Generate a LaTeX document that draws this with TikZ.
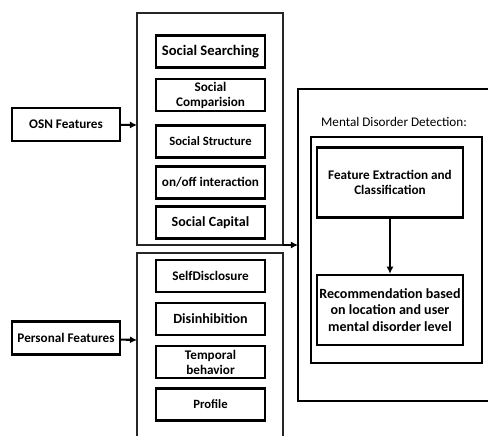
\documentclass[tikz,border=0pt]{standalone}
\usepackage{fontspec}
\setmainfont{Carlito}
\usetikzlibrary{arrows.meta, positioning, calc}

\begin{document}
\begin{tikzpicture}[
    x=0.02cm, y=-0.02cm,
    >={Latex[length=4pt,width=4pt]},
    font=\fontsize{7.5}{8.5}\selectfont\bfseries,
    group/.style={rectangle, draw=black!85, line width=1.1pt, minimum width=2.92cm},
    feat/.style={rectangle, draw=black, line width=1.4pt, fill=white, minimum width=2.18cm, minimum height=0.64cm, inner sep=1pt, align=center},
    src/.style={feat, minimum width=2.16cm, minimum height=0.66cm},
    stage/.style={rectangle, draw=black, line width=1.4pt, fill=white, minimum width=2.92cm, minimum height=1.4cm, align=center, inner sep=1pt}
  ]
    \useasboundingbox (0,0) rectangle (488,436);
    \fill[white] (0,0) rectangle (488,436);

    % containers
    \draw[group] (137,13) rectangle (283,245);
    \draw[group] (137,253) rectangle (283,450);
    \coordinate (osngrp) at (137,125);
    \coordinate (pergrp) at (137,340);
    \coordinate (join) at (283,245);

    % OSN features
    \node[feat, font=\fontsize{8.3}{9}\selectfont\bfseries] (srch) at (210.5,51.5) {Social Searching};
    \node[feat] (comp) at (210.5,95) {Social\\Comparision};
    \node[feat, font=\fontsize{7.2}{8}\selectfont\bfseries] (strc) at (210.5,141.5) {Social Structure};
    \node[feat] (intr) at (210.5,182.5) {on/off interaction};
    \node[feat, font=\fontsize{8}{9}\selectfont\bfseries] (capt) at (210.5,222.5) {Social Capital};

    % personal features
    \node[feat] (self) at (210.5,276) {SelfDisclosure};
    \node[feat, font=\fontsize{8}{9}\selectfont\bfseries] (disi) at (210.5,319) {Disinhibition};
    \node[feat] (temp) at (210.5,362) {Temporal\\behavior};
    \node[feat, font=\fontsize{7.2}{8}\selectfont\bfseries] (prof) at (210.5,404.5) {Profile};

    \node[src] (osn) at (66,124.5) {OSN Features};
    \node[src] (pers) at (66,338) {Personal Features};

    % detection
    \draw[line width=1.2pt] (298,89) rectangle (500,401);
    \coordinate (det) at (298,245);
    \node[anchor=west, font=\fontsize{7.5}{8.5}\selectfont] (title) at (315,122) {Mental Disorder Detection:};
    \draw[line width=1.2pt] (311,137) rectangle (482,363);
    \node[stage, font=\fontsize{7.5}{9}\selectfont\bfseries] (fec) at (390,182.5) {Feature Extraction and\\Classification};
    \node[stage, font=\fontsize{8}{9.5}\selectfont\bfseries] (rec) at (390,310) {Recommendation based\\on location and user\\mental disorder level};

    \draw[->, line width=1.2pt] (osn) -- (osngrp);
    \draw[->, line width=1.2pt] (pers) -- (pergrp);
    \draw[->, line width=1.2pt] (join) -- (det);
    \draw[->, line width=1.2pt] (fec) -- (rec);
  \end{tikzpicture}
\end{document}
